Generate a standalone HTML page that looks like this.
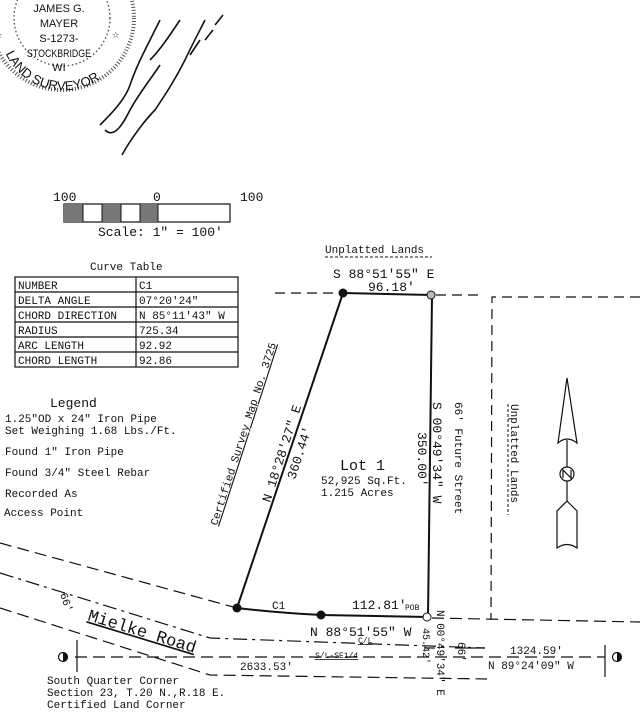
<!DOCTYPE html>
<html><head><meta charset="utf-8"><style>
html,body{margin:0;padding:0;background:#fff;width:640px;height:720px;overflow:hidden}
svg{display:block}
text{font-family:"Liberation Mono","DejaVu Sans Mono",monospace;fill:#111}
</style></head><body>
<svg width="640" height="720" viewBox="0 0 640 720" xmlns="http://www.w3.org/2000/svg">
<!-- Seal -->
<circle cx="62" cy="18" r="72" fill="none" stroke="#555" stroke-width="4" stroke-dasharray="1 2"/>
<circle cx="62" cy="18" r="48" fill="none" stroke="#444" stroke-width="1.3" stroke-dasharray="1.5 2.5"/>
<g font-size="11" text-anchor="middle">
<text x="59" y="12" style="font-family:'Liberation Sans',sans-serif" fill="#555">JAMES G.</text>
<text x="59" y="27" style="font-family:'Liberation Sans',sans-serif" fill="#555">MAYER</text>
<text x="59" y="42" style="font-family:'Liberation Sans',sans-serif" fill="#555">S-1273-</text>
<text x="59" y="57" style="font-family:'Liberation Sans',sans-serif" fill="#555" textLength="64" lengthAdjust="spacingAndGlyphs">STOCKBRIDGE</text>
<text x="59" y="71" style="font-family:'Liberation Sans',sans-serif" fill="#555">WI</text>
</g>
<path id="arc" d="M4,50 A64,64 0 0 0 126,40" fill="none"/>
<text font-size="13" style="font-family:'Liberation Sans',sans-serif" fill="#555"><textPath href="#arc" startOffset="4">LAND SURVEYOR</textPath></text>
<text x="112" y="38" font-size="12" fill="#444">☆</text>
<text x="-5" y="38" font-size="12" fill="#444">☆</text>
<!-- signature -->
<g fill="none" stroke="#111" stroke-width="1.6">
<path d="M100,125 C110,115 125,100 130,85 C135,70 140,60 145,50 C150,40 155,30 160,20 M105,130 C115,140 125,120 130,110 C138,95 150,80 160,65 M150,60 C160,50 170,35 180,20"/>
<path d="M122,155 C130,140 145,120 155,110 C165,95 175,80 185,60 C192,45 200,30 205,20 M190,55 l10,-15 M205,40 l8,-10 M215,25 l8,-10"/>
</g>
<!-- Scale bar -->
<text x="53" y="201" font-size="13">100</text>
<text x="153" y="201" font-size="13">0</text>
<text x="240" y="201" font-size="13">100</text>
<rect x="64" y="204" width="166" height="18" fill="#fff" stroke="#111" stroke-width="1.2"/>
<rect x="64" y="204" width="19" height="18" fill="#777"/>
<rect x="102" y="204" width="19" height="18" fill="#777"/>
<rect x="140" y="204" width="18" height="18" fill="#777"/>
<line x1="83" y1="204" x2="83" y2="222" stroke="#111"/><line x1="102" y1="204" x2="102" y2="222" stroke="#111"/>
<line x1="121" y1="204" x2="121" y2="222" stroke="#111"/><line x1="140" y1="204" x2="140" y2="222" stroke="#111"/><line x1="158" y1="204" x2="158" y2="222" stroke="#111"/>
<text x="98" y="236" font-size="13">Scale: 1" = 100'</text>
<!-- Curve table -->
<text x="90" y="270" font-size="11">Curve Table</text>
<g stroke="#111" stroke-width="1.2" fill="none">
<rect x="15" y="277" width="223" height="90"/>
<line x1="136" y1="277" x2="136" y2="367"/>
<line x1="15" y1="292" x2="238" y2="292"/><line x1="15" y1="307" x2="238" y2="307"/>
<line x1="15" y1="322" x2="238" y2="322"/><line x1="15" y1="337" x2="238" y2="337"/><line x1="15" y1="352" x2="238" y2="352"/>
</g>
<g font-size="11">
<text x="18" y="289">NUMBER</text><text x="139" y="289">C1</text>
<text x="18" y="304">DELTA ANGLE</text><text x="139" y="304">07°20'24"</text>
<text x="18" y="319">CHORD DIRECTION</text><text x="139" y="319">N 85°11'43" W</text>
<text x="18" y="334">RADIUS</text><text x="139" y="334">725.34</text>
<text x="18" y="349">ARC LENGTH</text><text x="139" y="349">92.92</text>
<text x="18" y="364">CHORD LENGTH</text><text x="139" y="364">92.86</text>
</g>
<!-- Legend -->
<text x="50" y="407" font-size="13">Legend</text>
<g font-size="11">
<text x="5" y="422">1.25"OD x 24" Iron Pipe</text>
<text x="5" y="434">Set Weighing 1.68 Lbs./Ft.</text>
<text x="5" y="455">Found 1" Iron Pipe</text>
<text x="5" y="476">Found 3/4" Steel Rebar</text>
<text x="5" y="497">Recorded As</text>
<text x="4" y="516">Access Point</text>
</g>
<!-- Top -->
<text x="325" y="253" font-size="11">Unplatted Lands</text>
<line x1="325" y1="257" x2="432" y2="257" stroke="#111" stroke-dasharray="3 2"/>
<text x="333" y="278" font-size="13">S 88°51'55" E</text>
<text x="368" y="291" font-size="13">96.18'</text>
<line x1="275" y1="293" x2="342" y2="293" stroke="#111" stroke-width="1.2" stroke-dasharray="10 6"/>
<line x1="436" y1="295" x2="482" y2="295" stroke="#111" stroke-width="1.2" stroke-dasharray="10 6"/>
<!-- Lot lines -->
<g stroke="#111" stroke-width="2" fill="none">
<line x1="343" y1="293" x2="432" y2="295"/>
<line x1="432" y1="295" x2="428" y2="617"/>
<line x1="343" y1="293" x2="237" y2="608"/>
<path d="M237,608 Q280,613 322,615 L428,617"/>
</g>
<circle cx="343" cy="293" r="4.5" fill="#111"/>
<circle cx="237" cy="608" r="4.5" fill="#111"/>
<circle cx="321" cy="615" r="4.5" fill="#111"/>
<circle cx="431" cy="295" r="4" fill="#bbb" stroke="#111"/>
<circle cx="427" cy="617" r="4" fill="#fff" stroke="#111"/>
<text x="340" y="470" font-size="15">Lot 1</text>
<text x="321" y="484" font-size="11">52,925 Sq.Ft.</text>
<text x="321" y="496" font-size="11">1.215 Acres</text>
<text transform="translate(270,503) rotate(-72)" font-size="13">N 18°28'27" E</text>
<text transform="translate(295,480) rotate(-72)" font-size="13">360.44'</text>
<text transform="translate(217,526) rotate(-72)" font-size="11" text-decoration="underline">Certified Survey Map No. 3725</text>
<text transform="translate(433,402) rotate(90)" font-size="13">S 00°49'34" W</text>
<text transform="translate(418,432) rotate(90)" font-size="13">350.00'</text>
<text transform="translate(455,402) rotate(90)" font-size="11">66' Future Street</text>
<!-- Right box -->
<path d="M640,297 L492,297 L491,620" fill="none" stroke="#111" stroke-width="1.2" stroke-dasharray="10 6"/>
<text transform="translate(511,404) rotate(90)" font-size="11">Unplatted Lands</text>
<line x1="508" y1="404" x2="508" y2="515" stroke="#111" stroke-dasharray="3 2"/>
<!-- North arrow -->
<g stroke="#111" stroke-width="1.2" fill="#fff">
<path d="M567,378 L577,443 Q567,435 558,443 Z"/>
<line x1="567" y1="440" x2="567" y2="502"/>
<circle cx="567" cy="474" r="7"/>
<path d="M563,478 L563,470 L571,478 L571,470" fill="none"/>
<path d="M567,501 L577,511 L577,548 Q567,541 557,548 L557,511 Z"/>
</g>
<!-- Road lines -->
<g stroke="#111" stroke-width="1.2" fill="none">
<path d="M0,543 L237,608" stroke-dasharray="12 6"/>
<path d="M432,618 L640,622" stroke-dasharray="12 6"/>
<path d="M0,573 L210,638 L485,648" stroke-dasharray="14 5 3 5"/>
<path d="M0,608 L210,675 L487,679" stroke-dasharray="12 6"/>
<path d="M75,657 L605,657" stroke-dasharray="12 6"/>
<line x1="77" y1="640" x2="77" y2="672"/>
<line x1="605" y1="645" x2="605" y2="677"/>
<line x1="425" y1="648" x2="435" y2="648"/>
<line x1="455" y1="648" x2="485" y2="648"/>
</g>
<circle cx="63" cy="657" r="4.5" fill="#fff" stroke="#111" stroke-width="1.2"/>
<path d="M63,652.5 A4.5,4.5 0 0 1 63,661.5 Z" fill="#111"/>
<circle cx="617" cy="657" r="4.5" fill="#fff" stroke="#111" stroke-width="1.2"/>
<path d="M617,652.5 A4.5,4.5 0 0 1 617,661.5 Z" fill="#111"/>
<text transform="translate(87,620) rotate(17)" font-size="17" text-decoration="underline">Mielke Road</text>
<text transform="translate(60,594) rotate(72)" font-size="11">66'</text>
<text x="272" y="609" font-size="11">C1</text>
<text x="352" y="609" font-size="13">112.81'</text>
<text x="405" y="610" font-size="8">POB</text>
<text x="310" y="636" font-size="13">N 88°51'55" W</text>
<text x="358" y="643" font-size="8" text-decoration="underline">C/L</text>
<text x="315" y="658" font-size="8" text-decoration="underline">S/L-SE1/4</text>
<text x="240" y="670" font-size="11">2633.53'</text>
<text x="510" y="654" font-size="11">1324.59'</text>
<text x="488" y="669" font-size="11">N 89°24'09" W</text>
<text transform="translate(437,610) rotate(90)" font-size="11">N 00°49'34" E</text>
<text transform="translate(423,628) rotate(90)" font-size="10">45.42'</text>
<text transform="translate(458,642) rotate(90)" font-size="11">66'</text>
<g font-size="11">
<text x="47" y="684">South Quarter Corner</text>
<text x="47" y="696">Section 23, T.20 N.,R.18 E.</text>
<text x="47" y="708">Certified Land Corner</text>
</g>
</svg>
</body></html>
